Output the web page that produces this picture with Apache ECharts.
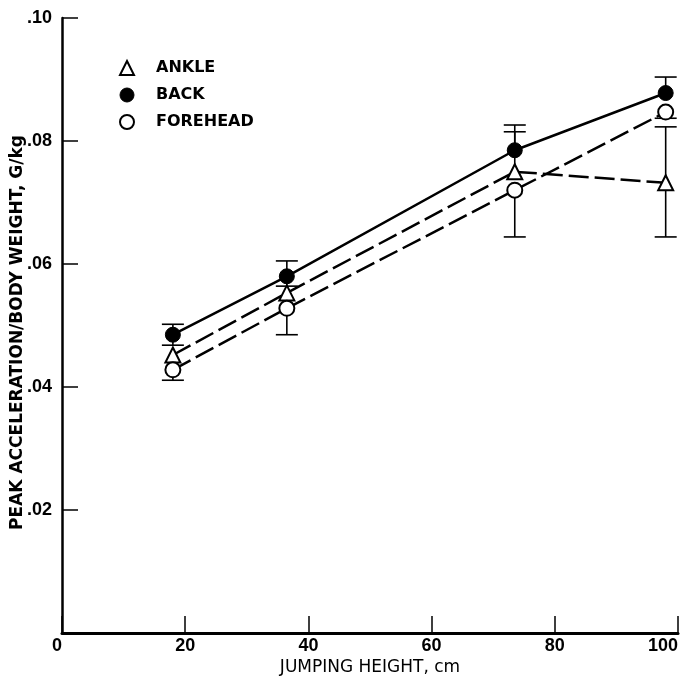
<!DOCTYPE html>
<html>
<head>
<meta charset="utf-8">
<script src="https://cdn.jsdelivr.net/npm/echarts@6/dist/echarts.min.js"></script>
<style>
  html, body { margin: 0; padding: 0; background: #fff; }
  #myChart { width: 686px; height: 679px; }
</style>
</head>
<body>
<div id="myChart"></div>
<script>
// jumping height (cm) for each measurement
var heights = [18, 36.5, 73.5, 98];
// peak acceleration / body weight, G/kg
var ankle = [0.0452, 0.0553, 0.0750, 0.0732];
var back = [0.0485, 0.0580, 0.0785, 0.0878];
var forehead = [0.0428, 0.0528, 0.0720, 0.0847];
// error bar ends (null = no cap drawn on that side)
var ankleLow = [null, null, null, 0.0644];
var ankleHigh = [null, null, 0.0815, 0.0823];
var backLow = [0.0468, 0.0564, null, null];
var backHigh = [0.0502, 0.0605, 0.0826, 0.0904];
var foreheadLow = [0.0411, 0.0485, 0.0644, 0.0837];
var foreheadHigh = [null, null, null, null];
// axis ticks
var xTicks = [0, 20, 40, 60, 80, 100];
var yTicks = [0, 0.02, 0.04, 0.06, 0.08, 0.10];

function pairs(ys) {
  return heights.map(function (h, i) { return [h, ys[i]]; });
}

// error bar as custom series: vertical line + caps
function errorSeries(ys, lows, highs) {
  return {
    type: 'custom',
    z: 1,
    silent: true,
    data: pairs(ys),
    renderItem: function (params, api) {
      var i = params.dataIndex;
      var x = api.value(0), c = api.value(1);
      var lo = lows[i] == null ? c : lows[i];
      var hi = highs[i] == null ? c : highs[i];
      var pLo = api.coord([x, lo]);
      var pHi = api.coord([x, hi]);
      var st = { stroke: '#000', lineWidth: 1.6 };
      var kids = [{ type: 'line', shape: { x1: pLo[0], y1: pLo[1], x2: pHi[0], y2: pHi[1] }, style: st }];
      var w = 11;
      if (lows[i] != null) kids.push({ type: 'line', shape: { x1: pLo[0] - w, y1: pLo[1], x2: pLo[0] + w, y2: pLo[1] }, style: st });
      if (highs[i] != null) kids.push({ type: 'line', shape: { x1: pHi[0] - w, y1: pHi[1], x2: pHi[0] + w, y2: pHi[1] }, style: st });
      return { type: 'group', children: kids };
    }
  };
}

var myChart = echarts.init(document.getElementById('myChart'));
var numFont = { fontFamily: 'Liberation Sans, Arial, sans-serif', fontWeight: 'bold', fontSize: 18, color: '#000' };

myChart.setOption({
  backgroundColor: '#fff',
  animation: false,
  grid: { left: 62, right: 8, top: 18, bottom: 46, outerBoundsMode: 'none', containLabel: false },
  legend: {
    orient: 'vertical',
    left: 114,
    top: 55,
    itemWidth: 14,
    itemHeight: 14,
    itemGap: 11,
    textStyle: {
      fontFamily: 'DejaVu Sans, sans-serif', fontWeight: 'bold', fontSize: 16,
      lineHeight: 16, color: '#000', padding: [0, 0, 0, 17]
    },
    data: [
      { name: 'ANKLE', icon: 'triangle', itemStyle: { color: '#fff', borderColor: '#000', borderWidth: 2 } },
      { name: 'BACK', icon: 'circle', itemStyle: { color: '#000', borderColor: '#000', borderWidth: 1 } },
      { name: 'FOREHEAD', icon: 'circle', itemStyle: { color: '#fff', borderColor: '#000', borderWidth: 2 } }
    ]
  },
  xAxis: {
    type: 'value',
    min: 0, max: 100, interval: 20,
    name: 'JUMPING HEIGHT, cm',
    nameLocation: 'middle',
    nameGap: 35,
    nameMoveOverlap: false,
    nameTextStyle: { fontFamily: 'DejaVu Sans, sans-serif', fontSize: 17, color: '#000', verticalAlign: 'middle' },
    axisLine: { lineStyle: { color: '#000', width: 3 } },
    axisTick: { inside: true, length: 17, lineStyle: { color: '#000', width: 1.5 } },
    axisLabel: Object.assign({ margin: 4, alignMinLabel: 'right', alignMaxLabel: 'right',
      formatter: function (v) { return xTicks.indexOf(v) >= 0 ? String(v) : ''; } }, numFont),
    splitLine: { show: false }
  },
  yAxis: {
    type: 'value',
    min: 0, max: 0.1, interval: 0.02,
    name: 'PEAK ACCELERATION/BODY WEIGHT, G/kg',
    nameLocation: 'middle',
    nameGap: 44,
    nameRotate: 90,
    nameMoveOverlap: false,
    nameTextStyle: { fontFamily: 'DejaVu Sans, sans-serif', fontWeight: 'bold', fontSize: 17, color: '#000', verticalAlign: 'middle', padding: [0, 14, 0, 0] },
    axisLine: { lineStyle: { color: '#000', width: 2.5 } },
    axisTick: { inside: true, length: 16, lineStyle: { color: '#000', width: 1.5 } },
    axisLabel: Object.assign({ margin: 10,
      formatter: function (v) {
        if (v === 0) return '';
        var k = yTicks.reduce(function (a, b) { return Math.abs(b - v) < Math.abs(a - v) ? b : a; });
        return '.' + String(Math.round(k * 100)).padStart(2, '0');
      } }, numFont),
    splitLine: { show: false }
  },
  series: [
    errorSeries(ankle, ankleLow, ankleHigh),
    errorSeries(back, backLow, backHigh),
    errorSeries(forehead, foreheadLow, foreheadHigh),
    {
      name: 'ANKLE', type: 'line', z: 3, data: pairs(ankle),
      symbol: 'triangle', symbolSize: 15,
      itemStyle: { color: '#fff', borderColor: '#000', borderWidth: 2 },
      lineStyle: { color: '#000', width: 2.5, type: [20, 6] }
    },
    {
      name: 'BACK', type: 'line', z: 3, data: pairs(back),
      symbol: 'circle', symbolSize: 15,
      itemStyle: { color: '#000', borderColor: '#000', borderWidth: 1 },
      lineStyle: { color: '#000', width: 2.5 }
    },
    {
      name: 'FOREHEAD', type: 'line', z: 3, data: pairs(forehead),
      symbol: 'circle', symbolSize: 15,
      itemStyle: { color: '#fff', borderColor: '#000', borderWidth: 2 },
      lineStyle: { color: '#000', width: 2.5, type: [20, 6] }
    }
  ]
});
</script>
</body>
</html>
